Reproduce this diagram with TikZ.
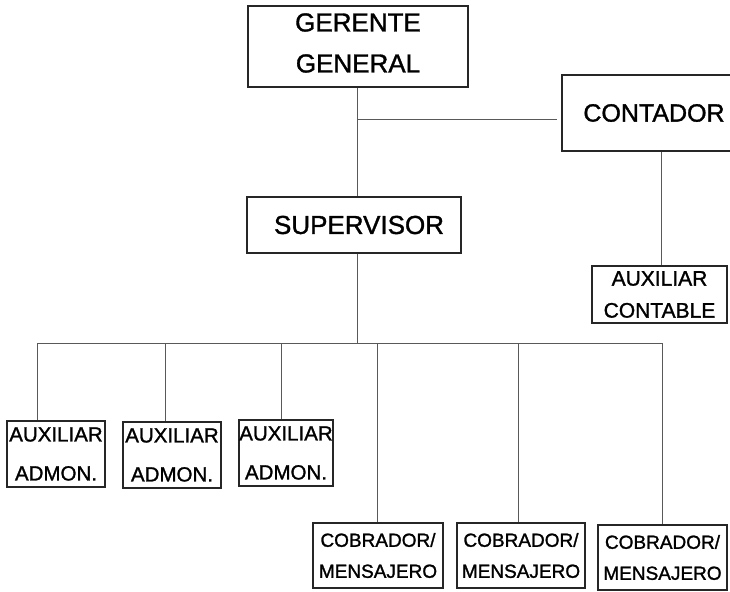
\documentclass[tikz,border=0pt]{standalone}
\usepackage{fontspec}
\setmainfont{Liberation Sans}
\newfontfamily\inkfont[FakeBold=1.3]{Liberation Sans}
\begin{document}
\begin{tikzpicture}[x=1pt,y=-1pt,
  box/.style={draw=black!85, line width=1.1pt, rectangle, inner sep=0pt, align=center, text=black},
  link/.style={draw=black!65, line width=1pt},
  big/.style={font=\inkfont\fontsize{26}{41}\selectfont},
  mid/.style={font=\inkfont\fontsize{25}{30}\selectfont},
  small/.style={font=\inkfont\fontsize{20.5}{39}\selectfont},
  tiny/.style={font=\inkfont\fontsize{19}{31}\selectfont}]
\clip (0,0) rectangle (730,591);
\fill[white] (0,0) rectangle (730,591);

% top level
\node[box, minimum width=220pt, minimum height=81pt] (gg) at (358,46.5) {};
\node[big, align=center, inner sep=0pt] (ggt) at (358,43) {GERENTE\\GENERAL};
\node[box, mid, minimum width=184pt, minimum height=76pt] (cont) at (654,113) {CONTADOR};
\node[box, big, minimum width=214pt, minimum height=56pt] (sup) at (354,225) {\hspace*{10pt}SUPERVISOR};
\node[box, font=\inkfont\fontsize{21}{32}\selectfont, minimum width=135pt, minimum height=57pt] (auxc) at (659.5,294.5) {AUXILIAR\\CONTABLE};

% administrative assistants
\node[box, small, minimum width=98pt, minimum height=66pt] (a1) at (56,454) {AUXILIAR\\ADMON.};
\node[box, small, minimum width=98pt, minimum height=66pt] (a2) at (172,455) {AUXILIAR\\ADMON.};
\node[box, small, minimum width=94pt, minimum height=66pt] (a3) at (286,453) {AUXILIAR\\ADMON.};

% collectors / messengers
\node[box, tiny, minimum width=130pt, minimum height=65pt] (c1) at (378,555.5) {COBRADOR/\\MENSAJERO};
\node[box, tiny, minimum width=128pt, minimum height=65pt] (c2) at (521,555.5) {COBRADOR/\\MENSAJERO};
\node[box, tiny, minimum width=129pt, minimum height=65pt] (c3) at (662.5,557.5) {COBRADOR/\\MENSAJERO};

% junction points
\coordinate (j1) at (357,120);
\coordinate (j2) at (557,120);
\coordinate (bus) at (357,343);
\coordinate (d1) at (37,343);
\coordinate (d2) at (165,343);
\coordinate (d3) at (281,343);
\coordinate (d4) at (377,343);
\coordinate (d5) at (518,343);
\coordinate (d6) at (662,343);

% connectors
\draw[link] (gg.south -| j1) -- (sup.north -| j1);
\draw[link] (j1) -- (j2);
\draw[link] (cont.south -| 661,0) -- (auxc.north -| 661,0);
\draw[link] (sup.south -| bus) -- (bus);
\draw[link] (d1) -- (d6);
\draw[link] (d1) -- (d1 |- a1.north);
\draw[link] (d2) -- (d2 |- a2.north);
\draw[link] (d3) -- (d3 |- a3.north);
\draw[link] (d4) -- (d4 |- c1.north);
\draw[link] (d5) -- (d5 |- c2.north);
\draw[link] (d6) -- (d6 |- c3.north);
\end{tikzpicture}
\end{document}
